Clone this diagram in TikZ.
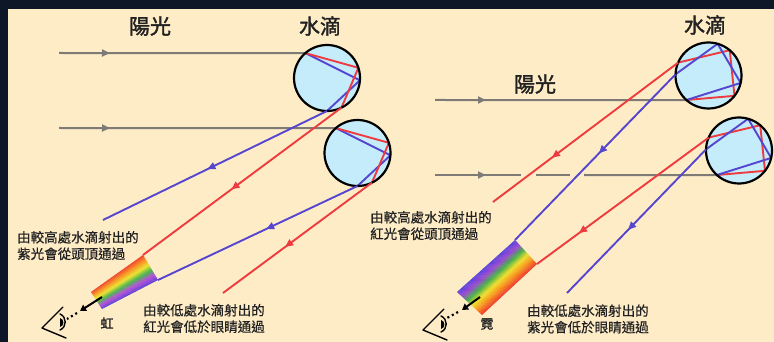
\documentclass[tikz,border=0pt]{standalone}
\usepackage{fontspec}
\newfontfamily\cjk{Noto Sans CJK TC}
\newfontfamily\cjkbold{Noto Sans CJK TC}[FakeBold=1.6]
\newfontfamily\cjkmed{Noto Sans CJK TC}[FakeBold=0.5]
\usetikzlibrary{arrows.meta,decorations.markings,calc}

\definecolor{frame}{HTML}{0E1727}
\definecolor{paper}{HTML}{FEECC7}
\definecolor{sun}{HTML}{7E7B76}
\definecolor{redray}{HTML}{EE3B3F}
\definecolor{blueray}{HTML}{5446CF}
\definecolor{water}{HTML}{C4ECFB}
\definecolor{ink}{HTML}{222222}
% primary bow, outer edge (red) to inner edge (violet)
\definecolor{bowL0}{HTML}{EF3B2C}
\definecolor{bowL1}{HTML}{F7931E}
\definecolor{bowL2}{HTML}{EEE32D}
\definecolor{bowL3}{HTML}{45B649}
\definecolor{bowL4}{HTML}{B44BDB}
\definecolor{bowL5}{HTML}{5B3FD6}
% secondary bow, colours reversed
\definecolor{bowR0}{HTML}{5545DD}
\definecolor{bowR1}{HTML}{9A45D5}
\definecolor{bowR2}{HTML}{45B04A}
\definecolor{bowR3}{HTML}{F0E02A}
\definecolor{bowR4}{HTML}{F7931E}
\definecolor{bowR5}{HTML}{EF3B2C}

\tikzset{
  drop/.style={circle, fill=water, minimum size=66pt, inner sep=0pt, outer sep=0pt},
  rim/.style={circle, draw=black, line width=2.2pt, minimum size=66pt, inner sep=0pt, outer sep=0pt},
  sunray/.style={draw=sun, line width=2pt},
  ray/.style={line width=1.9pt, line join=round},
  midarrow/.style={postaction={decorate},
    decoration={markings, mark=at position #1 with {\arrow{Triangle[length=8pt,width=7pt]}}}},
  title/.style={font=\cjkbold\fontsize{21}{23}\selectfont, text=ink, inner sep=0pt},
  note/.style={font=\cjkmed\fontsize{13.5}{16.5}\selectfont, text=ink, align=left, anchor=west, inner sep=0pt},
  bowname/.style={font=\cjkbold\fontsize{13}{15}\selectfont, text=ink, inner sep=0pt},
  eyearrow/.style={line width=2pt, -{Triangle[length=6pt,width=7pt]}},
  eyedots/.style={line width=2.2pt, dash pattern=on 2pt off 3pt},
  eyeline/.style={line width=1.4pt, line cap=round, line join=round},
}

% colour band between four corners: #1 TL, #2 TR, #3 BR, #4 BL, #5 colour prefix
\newcommand\bowstrips[5]{%
  \foreach \k in {0,...,49}{%
    \pgfmathsetmacro\ta{\k/50}%
    \pgfmathsetmacro\tb{min(1,(\k+1.3)/50)}%
    \pgfmathtruncatemacro\seg{min(4,floor((\k+0.5)/10))}%
    \pgfmathtruncatemacro\nxt{\seg+1}%
    \pgfmathtruncatemacro\pc{round(100-100*((\k+0.5)/10-\seg))}%
    \colorlet{stripcol}{#5\seg!\pc!#5\nxt}%
    \fill[stripcol] ($(#1)!\ta!(#4)$) -- ($(#2)!\ta!(#3)$) -- ($(#2)!\tb!(#3)$) -- ($(#1)!\tb!(#4)$) -- cycle;
  }%
}

% side view of an eye, vertex at #1
\newcommand\eyeglyph[1]{%
  \begin{scope}[shift={#1}]
    \draw[eyeline] (21,-21) -- (0,0) -- (24,10);
    \draw[eyeline] (18,-14) .. controls (25,-11) and (25,-1) .. (18,2);
    \fill (18,-10) -- (18,-1) .. controls (22.5,-2) and (22.5,-9) .. cycle;
  \end{scope}%
}

\begin{document}
\begin{tikzpicture}[x=1pt,y=-1pt]
\fill[frame] (0,0) rectangle (774,342);
\fill[paper] (8,9) rectangle (774,342);
\useasboundingbox (0,0) rectangle (774,342);

% headings
\node[title] (sunL) at (150,26) {陽光};
\node[title] (dropsL) at (320,26) {水滴};
\node[title] (dropsR) at (705,25) {水滴};
\node[title] (sunR) at (535,84) {陽光};

% water drops
\node[drop] (A) at (327,78) {};
\node[drop] (B) at (357.5,153) {};
\node[drop] (C) at (708.5,75.5) {};
\node[drop] (D) at (739,150.5) {};

% incoming sunlight
\coordinate (sA) at (59,53);
\coordinate (sB) at (59,128);
\coordinate (sC) at (435,100);
\coordinate (sD) at (435,175);
\coordinate (gapA1) at (521,175);
\coordinate (gapB1) at (536,175);
\coordinate (gapA2) at (570,175);
\coordinate (gapB2) at (584,175);
\draw[sunray, midarrow=51pt] (sA) -- (A.131);
\draw[sunray, midarrow=51pt] (sB) -- (B.131);
\draw[sunray, midarrow=51pt] (sC) -- (C.228);
\draw[sunray, midarrow=51pt] (sD) -- (gapA1);
\draw[sunray] (gapB1) -- (gapA2);
\draw[sunray] (gapB2) -- (D.228);

% paths inside the drops: one reflection (left), two reflections (right)
\foreach \d in {A,B}{
  \draw[ray, blueray] (\d.131) -- (\d.-4) -- (\d.-90);
  \draw[ray, redray] (\d.131) -- (\d.18) -- (\d.-64);
}
\foreach \d in {C,D}{
  \draw[ray, redray] (\d.228) -- (\d.-38) -- (\d.50) -- (\d.157);
  \draw[ray, blueray] (\d.228) -- (\d.-13) -- (\d.74) -- (\d.178);
}
\node[rim] (Arim) at (A) {};
\node[rim] (Brim) at (B) {};
\node[rim] (Crim) at (C) {};
\node[rim] (Drim) at (D) {};

% colour bands
\coordinate (LTL) at (91,292);
\coordinate (LTR) at (143,255);
\coordinate (LBR) at (158,280);
\coordinate (LBL) at (102,309);
\coordinate (RTL) at (457,292);
\coordinate (RTR) at (515,240);
\coordinate (RBR) at (537,264);
\coordinate (RBL) at (482,315);
\bowstrips{LTL}{LTR}{LBR}{LBL}{bowL}
\bowstrips{RTL}{RTR}{RBR}{RBL}{bowR}

% emerging rays, primary bow
\coordinate (bA) at (103,220);
\coordinate (rB) at (223,293);
\draw[ray, blueray, midarrow=133pt] (A.-90) -- (bA);
\draw[ray, redray, midarrow=137pt] (A.-64) -- (LTR);
\draw[ray, blueray, midarrow=101pt] (B.-90) -- (LBR);
\draw[ray, redray, midarrow=108pt] (B.-64) -- (rB);

% emerging rays, secondary bow
\coordinate (rC) at (493,202);
\coordinate (bD) at (567,293);
\draw[ray, redray, midarrow=158pt] (C.157) -- (rC);
\draw[ray, blueray, midarrow=110pt] (C.178) -- (RTR);
\draw[ray, redray, midarrow=161pt] (D.157) -- (RBR);
\draw[ray, blueray, midarrow=112pt] (D.178) -- (bD);

% towards the observer
\coordinate (eaL) at (102,297);
\coordinate (ebL) at (80,311);
\coordinate (edL) at (77,313);
\coordinate (efL) at (67,319);
\draw[eyearrow] (eaL) -- (ebL);
\draw[eyedots] (edL) -- (efL);
\eyeglyph{(42,328)}

\coordinate (eaR) at (480,297);
\coordinate (ebR) at (462,310);
\coordinate (edR) at (458,312);
\coordinate (efR) at (447,318);
\draw[eyearrow] (eaR) -- (ebR);
\draw[eyedots] (edR) -- (efR);
\eyeglyph{(423,330)}

\node[bowname] (hong) at (107,323) {虹};
\node[bowname] (ni) at (487,324) {霓};

% captions
\node[note] (txtL1) at (17,245.5) {由較高處水滴射出的\\紫光會從頭頂通過};
\node[note] (txtL2) at (143,318.5) {由較低處水滴射出的\\紅光會低於眼睛通過};
\node[note] (txtR1) at (370,225.5) {由較高處水滴射出的\\紅光會從頭頂通過};
\node[note] (txtR2) at (527,319) {由較低處水滴射出的\\紫光會低於眼睛通過};
\end{tikzpicture}
\end{document}
